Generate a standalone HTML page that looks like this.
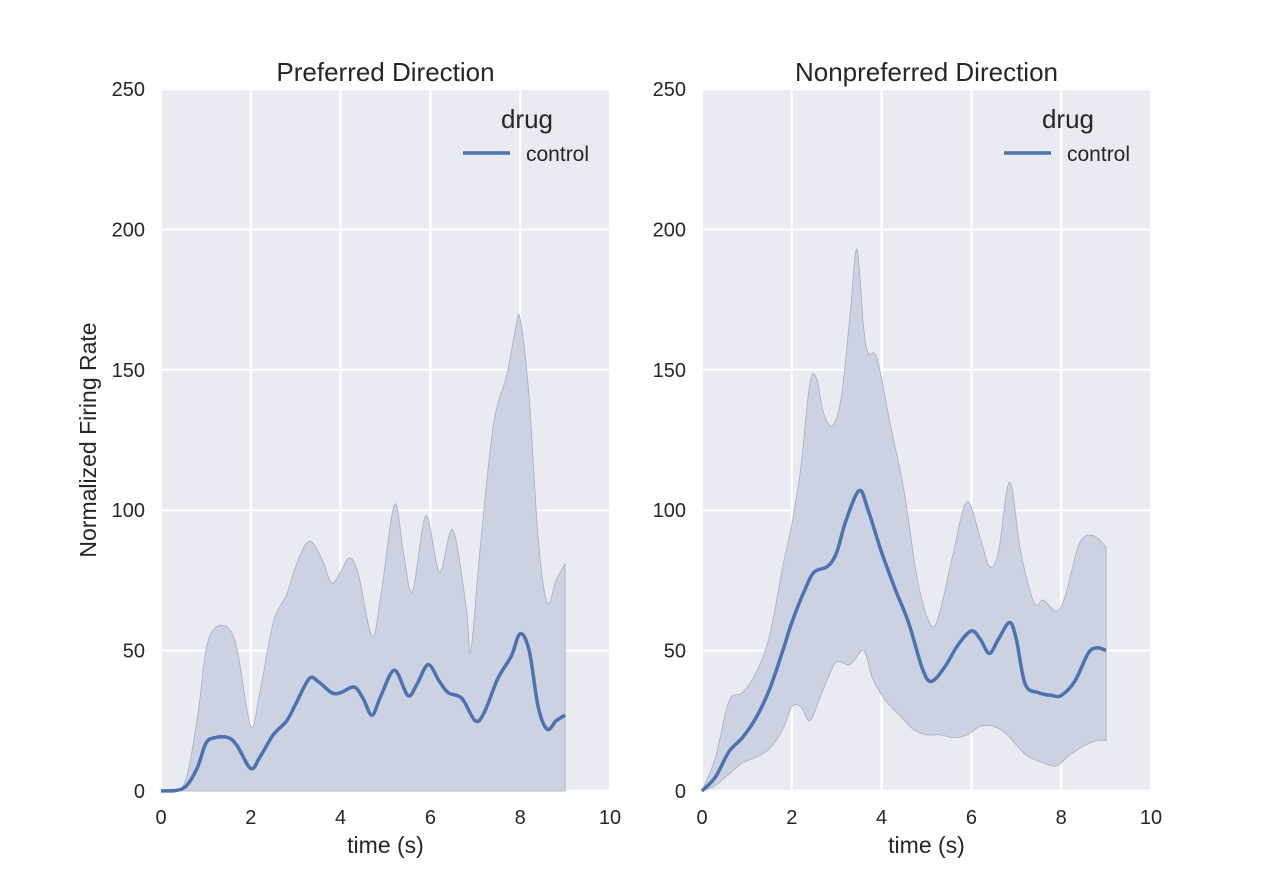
<!DOCTYPE html>
<html><head><meta charset="utf-8"><style>
body{margin:0;background:#fff;}
svg{display:block;font-family:"Liberation Sans",sans-serif;}
</style></head><body>
<svg id="chart" width="1280" height="880"></svg>
<script>
const xTicks=[0,2,4,6,8,10];
const yTicks=[0,50,100,150,200,250];
const titles=["Preferred Direction","Nonpreferred Direction"];
const leftTime=[0,0.5,0.8,1.0,1.2,1.5,1.7,2.0,2.2,2.5,2.8,3.0,3.3,3.5,3.8,4.0,4.3,4.5,4.7,4.9,5.2,5.5,5.7,5.95,6.2,6.4,6.7,7.0,7.2,7.5,7.8,8.0,8.2,8.4,8.6,8.8,9.0];
const leftMean=[0,1,8,17,19,19,16,8,12,20,25,31,40,39,35,35,37,33,27,34,43,34,38,45,39,35,33,25,28,40,48,56,50,30,22,25,27];
const leftUpTime=[0,0.5,0.8,1.0,1.2,1.5,1.7,2.0,2.2,2.5,2.8,3.0,3.3,3.6,3.8,4.0,4.2,4.4,4.7,4.9,5.2,5.4,5.6,5.9,6.2,6.5,6.8,6.9,7.1,7.4,7.7,7.9,8.0,8.2,8.4,8.6,8.8,9.0];
const leftUpper=[0,2,25,50,58,58,50,23,35,60,70,80,89,82,74,78,83,77,55,70,102,85,71,98,78,93,65,50,85,130,148,165,168,140,90,67,75,81];
const leftLoTime=[0,9.0];
const leftLower=[0,0];
const rightTime=[0,0.3,0.6,0.9,1.2,1.5,1.8,2.0,2.3,2.5,2.8,3.0,3.2,3.5,3.7,4.0,4.3,4.6,4.9,5.1,5.4,5.7,6.0,6.2,6.4,6.6,6.85,7.0,7.2,7.5,7.8,8.0,8.3,8.6,8.8,9.0];
const rightMean=[0,5,14,19,26,36,50,60,72,78,80,85,96,107,100,85,72,60,44,39,44,52,57,54,49,54,60,54,38,35,34,34,39,49,51,50];
const rightUpTime=[0,0.3,0.6,0.9,1.2,1.5,1.8,2.0,2.2,2.4,2.55,2.7,2.9,3.1,3.3,3.45,3.6,3.7,3.9,4.2,4.5,4.8,5.1,5.3,5.6,5.9,6.2,6.4,6.6,6.85,7.1,7.4,7.6,7.9,8.1,8.4,8.7,9.0];
const rightUpper=[0,12,32,35,42,55,80,95,115,145,147,135,130,140,170,193,165,156,154,130,107,75,59,64,85,103,90,80,85,110,85,67,68,64,70,88,91,87];
const rightLoTime=[0,0.3,0.6,0.9,1.2,1.5,1.8,2.0,2.2,2.4,2.6,2.8,3.0,3.3,3.6,3.8,4.1,4.4,4.7,5.0,5.3,5.6,5.9,6.2,6.5,6.8,7.2,7.6,7.9,8.2,8.5,8.8,9.0];
const rightLower=[0,2,6,10,12,15,22,30,30,25,32,40,46,45,50,40,32,27,22,20,20,19,20,23,23,20,13,10,9,13,16,18,18];

const NS="http://www.w3.org/2000/svg";
const svg=document.getElementById('chart');
function mk(tag,attrs,parent){const e=document.createElementNS(NS,tag);for(const k in attrs)e.setAttribute(k,attrs[k]);(parent||svg).appendChild(e);return e;}
function smooth(pts){let d=`M${pts[0][0]},${pts[0][1]}`;for(let i=0;i<pts.length-1;i++){const p0=pts[i-1]||pts[i],p1=pts[i],p2=pts[i+1],p3=pts[i+2]||p2;const c1=[p1[0]+(p2[0]-p0[0])/6,p1[1]+(p2[1]-p0[1])/6],c2=[p2[0]-(p3[0]-p1[0])/6,p2[1]-(p3[1]-p1[1])/6];d+=` C${c1[0]},${c1[1]} ${c2[0]},${c2[1]} ${p2[0]},${p2[1]}`;}return d;}
function smoothCont(pts){return smooth(pts).replace(/^M/,'L');}
const panels=[
 {x0:161,t:leftTime,m:leftMean,ut:leftUpTime,u:leftUpper,lt:leftLoTime,l:leftLower,ylabel:true},
 {x0:702,t:rightTime,m:rightMean,ut:rightUpTime,u:rightUpper,lt:rightLoTime,l:rightLower,ylabel:false}];
const W=449,TOP=89,BOT=791;
panels.forEach((p,pi)=>{
 const sx=v=>p.x0+v/10*W, sy=v=>BOT-v/250*(BOT-TOP);
 const g=mk('g',{});
 
 
 mk('rect',{x:p.x0,y:TOP,width:W,height:BOT-TOP,fill:'#eaeaf2'},g);
 xTicks.forEach(v=>{mk('line',{x1:sx(v),x2:sx(v),y1:TOP,y2:BOT,stroke:'#fff','stroke-width':2},g);
  const t=mk('text',{x:sx(v),y:824,'text-anchor':'middle','font-size':20,fill:'#262626'},g);t.textContent=v;
  });
 yTicks.forEach(v=>{mk('line',{x1:p.x0,x2:p.x0+W,y1:sy(v),y2:sy(v),stroke:'#fff','stroke-width':2},g);
  const t=mk('text',{x:p.x0-16,y:sy(v)+7,'text-anchor':'end','font-size':20,fill:'#262626'},g);t.textContent=v;
  });
 const up=p.ut.map((t,i)=>[sx(t),sy(p.u[i])]);
 const lo=p.lt.map((t,i)=>[sx(t),sy(p.l[i])]).reverse();
 const band=mk('path',{d:smooth(up)+' '+smoothCont(lo)+' Z',fill:'#ccd2e2',stroke:'#a9aebb','stroke-width':0.8},g);
 
 
 const line=mk('path',{d:smooth(p.t.map((t,i)=>[sx(t),sy(p.m[i])])),fill:'none',stroke:'#4c72b0','stroke-width':3.5},g);
 
 
 const tt=mk('text',{x:p.x0+W/2,y:81,'text-anchor':'middle','font-size':26,fill:'#262626'},g);tt.textContent=titles[pi];
 
 
 const xl=mk('text',{x:p.x0+W/2,y:853,'text-anchor':'middle','font-size':23,fill:'#262626'},g);xl.textContent='time (s)';
 
 
 const lg=mk('g',{},g);
 
 
 const lt=mk('text',{x:p.x0+366,y:128,'text-anchor':'middle','font-size':26,fill:'#262626'},lg);lt.textContent='drug';
 mk('line',{x1:p.x0+302,x2:p.x0+349,y1:153,y2:153,stroke:'#4c72b0','stroke-width':3.5},lg);
 const le=mk('text',{x:p.x0+365,y:161,'font-size':21,fill:'#262626'},lg);le.textContent='control';
 
 
 if(p.ylabel){const yl=mk('text',{x:96,y:440,'text-anchor':'middle','font-size':23,fill:'#262626',transform:'rotate(-90 96 440)'},g);yl.textContent='Normalized Firing Rate';
  
  }
});
</script>
</body></html>
